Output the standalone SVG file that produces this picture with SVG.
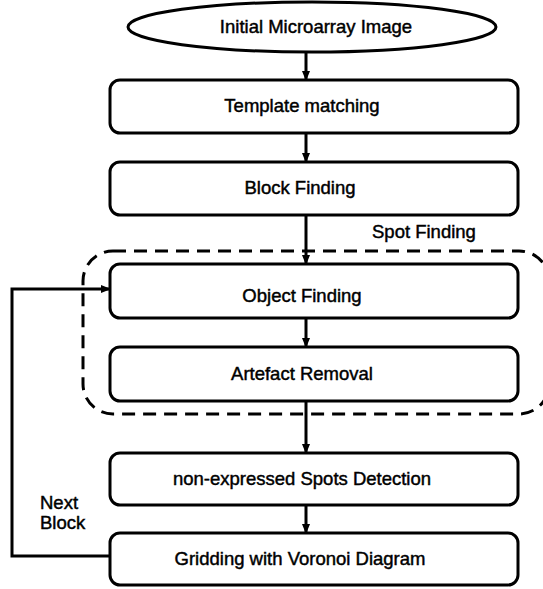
<svg xmlns="http://www.w3.org/2000/svg" width="543" height="589" viewBox="0 0 543 589">
<style>
.box{fill:#fff;stroke:#000;stroke-width:3}
.t{font-family:"Liberation Sans",Arial,sans-serif;font-size:18.5px;fill:#000;stroke:#000;stroke-width:0.45}
.c{fill:none;stroke:#000;stroke-width:3}
</style>
<defs>
<marker id="ah" markerWidth="10" markerHeight="10" refX="9" refY="5" orient="auto" markerUnits="userSpaceOnUse">
<path d="M0,1 L10,5 L0,9 Z" fill="#000"/>
</marker>
</defs>
<rect width="543" height="589" fill="#fff"/>
<g id="spot-finding">
<rect x="83" y="251" width="466" height="163" rx="30" fill="none" stroke="#000" stroke-width="3" stroke-dasharray="13,8"/>
<text class="t" x="372" y="238">Spot Finding</text>
</g>
<g id="n0">
<ellipse cx="312" cy="27" rx="184" ry="25" class="box"/>
<text class="t" x="316" y="33" text-anchor="middle">Initial Microarray Image</text>
</g>
<g id="n1">
<rect x="110" y="80" width="408" height="53" rx="10" class="box"/>
<text class="t" x="302" y="112" text-anchor="middle">Template matching</text>
</g>
<g id="n2">
<rect x="110" y="162" width="408" height="53" rx="10" class="box"/>
<text class="t" x="300" y="194" text-anchor="middle">Block Finding</text>
</g>
<g id="n3">
<rect x="110" y="264" width="408" height="54" rx="10" class="box"/>
<text class="t" x="302" y="302" text-anchor="middle">Object Finding</text>
</g>
<g id="n4">
<rect x="110" y="347" width="408" height="54" rx="10" class="box"/>
<text class="t" x="302" y="380" text-anchor="middle">Artefact Removal</text>
</g>
<g id="n5">
<rect x="110" y="453" width="408" height="52" rx="10" class="box"/>
<text class="t" x="302" y="485" text-anchor="middle">non-expressed Spots Detection</text>
</g>
<g id="n6">
<rect x="110" y="533" width="408" height="52" rx="10" class="box"/>
<text class="t" x="300" y="565" text-anchor="middle">Gridding with Voronoi Diagram</text>
</g>
<g id="connectors">
<line x1="306" y1="52" x2="306" y2="80" class="c" marker-end="url(#ah)"/>
<line x1="306" y1="133" x2="306" y2="162" class="c" marker-end="url(#ah)"/>
<line x1="306" y1="215" x2="306" y2="264" class="c" marker-end="url(#ah)"/>
<line x1="306" y1="318" x2="306" y2="347" class="c" marker-end="url(#ah)"/>
<line x1="306" y1="401" x2="306" y2="453" class="c" marker-end="url(#ah)"/>
<line x1="306" y1="505" x2="306" y2="533" class="c" marker-end="url(#ah)"/>
<polyline points="110,556 12,556 12,289 110,289" class="c" marker-end="url(#ah)"/>
<text class="t" x="40" y="509">Next</text>
<text class="t" x="40" y="529">Block</text>
</g>
</svg>
